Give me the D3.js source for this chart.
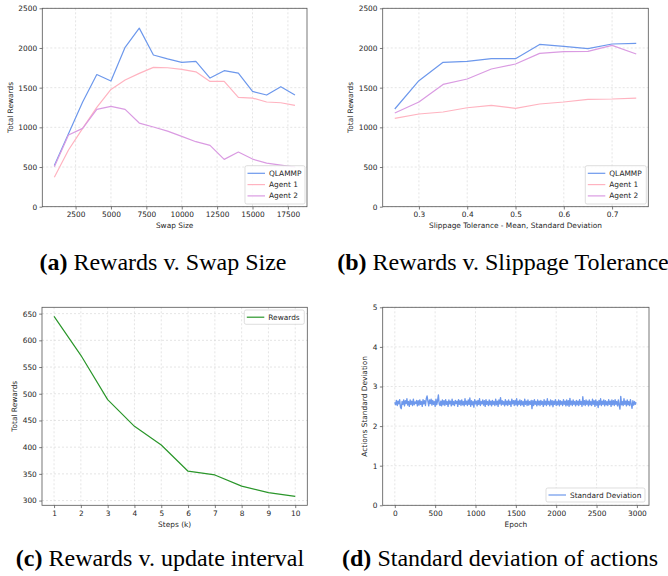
<!DOCTYPE html>
<html><head><meta charset="utf-8">
<script src="https://cdn.jsdelivr.net/npm/d3@7"></script>
<style>
body{margin:0;background:#fff;}
svg{display:block;}
text{font-family:"DejaVu Sans",sans-serif;}
.cap{font-family:"Liberation Serif","Times New Roman",serif;font-size:24px;fill:#000;}
</style></head><body>
<svg id="c" width="668" height="576"></svg>
<script>
// ---- data ----
const swapSizes = [1000,2000,3000,4000,5000,6000,7000,8000,9000,10000,11000,12000,13000,14000,15000,16000,17000,18000];
const swapQLAMMP = [520,920,1320,1665,1583,2008,2250,1911,1862,1819,1831,1621,1714,1684,1453,1407,1512,1407];
const swapAgent1 = [370,714,987,1252,1478,1596,1680,1756,1751,1730,1700,1579,1579,1378,1369,1319,1310,1277];
const swapAgent2 = [504,903,987,1226,1264,1226,1054,1004,953,886,819,773,596,689,600,550,525,500];

const slippage = [0.25,0.30,0.35,0.40,0.45,0.50,0.55,0.60,0.65,0.70,0.75];
const slipQLAMMP = [1231,1588,1819,1831,1865,1865,2045,2020,1991,2050,2058];
const slipAgent1 = [1113,1168,1193,1247,1277,1239,1294,1319,1352,1357,1369];
const slipAgent2 = [1180,1319,1541,1609,1735,1798,1932,1953,1957,2033,1924];

const steps = [1,2,3,4,5,6,7,8,9,10];
const stepRewards = [645,572,489,439,404,355,348,327,315,308];

const stdValues = [
2.60,2.54,2.65,2.52,2.63,2.56,2.67,2.48,2.44,2.62,2.55,2.66,2.51,2.64,2.57,2.69,2.53,2.62,2.50,2.66,2.55,2.63,2.52,2.68,2.54,2.61,2.57,2.65,2.51,2.64,
2.53,2.66,2.55,2.62,2.50,2.67,2.56,2.64,2.52,2.69,2.76,2.63,2.51,2.66,2.57,2.68,2.53,2.65,2.55,2.62,2.50,2.68,2.54,2.64,2.79,2.56,2.52,2.63,2.51,2.66,
2.54,2.64,2.52,2.67,2.55,2.62,2.50,2.66,2.56,2.63,2.51,2.68,2.54,2.62,2.52,2.65,2.57,2.63,2.50,2.67,2.55,2.64,2.52,2.66,2.54,2.62,2.51,2.69,2.55,2.63,
2.52,2.66,2.55,2.71,2.50,2.64,2.54,2.62,2.48,2.67,2.56,2.63,2.51,2.65,2.55,2.69,2.52,2.62,2.56,2.66,2.53,2.64,2.50,2.67,2.55,2.62,2.52,2.66,2.54,2.63,
2.51,2.65,2.55,2.62,2.52,2.68,2.54,2.63,2.50,2.66,2.56,2.72,2.53,2.64,2.55,2.62,2.51,2.67,2.54,2.63,2.52,2.66,2.55,2.62,2.50,2.68,2.56,2.64,2.52,2.65,
2.54,2.69,2.51,2.63,2.55,2.66,2.52,2.64,2.54,2.62,2.50,2.68,2.55,2.63,2.52,2.66,2.53,2.62,2.55,2.65,2.44,2.64,2.52,2.67,2.55,2.62,2.51,2.66,2.54,2.63,
2.52,2.65,2.55,2.62,2.50,2.67,2.54,2.63,2.52,2.69,2.55,2.62,2.51,2.66,2.54,2.64,2.49,2.63,2.55,2.67,2.52,2.62,2.54,2.66,2.51,2.64,2.55,2.62,2.52,2.67,
2.55,2.63,2.51,2.66,2.53,2.64,2.50,2.70,2.54,2.63,2.52,2.66,2.55,2.62,2.51,2.65,2.54,2.63,2.52,2.67,2.55,2.62,2.50,2.74,2.54,2.64,2.52,2.66,2.55,2.63,
2.51,2.66,2.54,2.62,2.52,2.68,2.55,2.64,2.50,2.66,2.53,2.62,2.47,2.65,2.54,2.69,2.52,2.63,2.55,2.66,2.51,2.64,2.54,2.62,2.52,2.67,2.55,2.63,2.50,2.66,
2.54,2.64,2.52,2.67,2.55,2.62,2.51,2.66,2.53,2.43,2.75,2.54,2.62,2.52,2.69,2.55,2.63,2.51,2.66,2.54,2.62,2.52,2.67,2.55,2.45,2.64,2.53,2.62,2.55,2.60];
const stdEpochs = d3.range(0, 3000, 10);

const ticksA = [2500,5000,7500,10000,12500,15000,17500];
const ticksB = [0.3,0.4,0.5,0.6,0.7];
const ticksRewards = [0,500,1000,1500,2000,2500];
const ticksC_x = [1,2,3,4,5,6,7,8,9,10];
const ticksC_y = [300,350,400,450,500,550,600,650];
const ticksD_x = [0,500,1000,1500,2000,2500,3000];
const ticksD_y = [0,1,2,3,4,5];

const legendA = ["QLAMMP","Agent 1","Agent 2"];
const colors = {QLAMMP:"#6d98ec", a1:"#ffb3c0", a2:"#da9be2", green:"#2a962a", std:"#6d98ec"};

const svg = d3.select("#c");
const FS = 7.4;

function panel(o){
  const g = svg.append("g");
  const x = d3.scaleLinear().domain(o.xd).range([o.l,o.r]);
  const y = d3.scaleLinear().domain(o.yd).range([o.b,o.t]);
  // grid
  g.append("g").selectAll("line").data(o.xt).join("line")
    .attr("x1",d=>x(d)).attr("x2",d=>x(d)).attr("y1",o.t).attr("y2",o.b)
    .attr("stroke","#d4d4d4").attr("stroke-width",0.6).attr("stroke-dasharray","2,2");
  g.append("g").selectAll("line").data(o.yt).join("line")
    .attr("y1",d=>y(d)).attr("y2",d=>y(d)).attr("x1",o.l).attr("x2",o.r)
    .attr("stroke","#d4d4d4").attr("stroke-width",0.6).attr("stroke-dasharray","2,2");
  // axes
  const xa = g.append("g").attr("transform",`translate(0,${o.b})`)
    .call(d3.axisBottom(x).tickValues(o.xt).tickSize(2.8).tickPadding(2.2).tickFormat(o.xf||(d=>d)));
  const ya = g.append("g").attr("transform",`translate(${o.l},0)`)
    .call(d3.axisLeft(y).tickValues(o.yt).tickSize(2.8).tickPadding(2.4).tickFormat(o.yf||(d=>d)));
  [xa,ya].forEach(a=>{
    a.select(".domain").remove();
    a.selectAll("line").attr("stroke","#444").attr("stroke-width",0.7);
    a.selectAll("text").attr("font-size",FS).attr("fill","#262626").attr("font-family","DejaVu Sans");
  });
  // series
  const clip = "clip"+Math.round(o.l)+Math.round(o.t);
  svg.append("clipPath").attr("id",clip).append("rect")
    .attr("x",o.l).attr("y",o.t).attr("width",o.r-o.l).attr("height",o.b-o.t);
  o.series.forEach(s=>{
    const line = d3.line().defined((d,i)=>i<s.xs.length).x((d,i)=>x(s.xs[i])).y(d=>y(d));
    g.append("path").attr("d",line(s.ys)).attr("fill","none")
      .attr("stroke",s.c).attr("stroke-width",s.w||1.2).attr("stroke-linejoin","round")
      .attr("clip-path",`url(#${clip})`);
  });
  // spines
  g.append("rect").attr("x",o.l).attr("y",o.t).attr("width",o.r-o.l).attr("height",o.b-o.t)
    .attr("fill","none").attr("stroke","#555").attr("stroke-width",0.8);
  // labels
  g.append("text").attr("x",(o.l+o.r)/2).attr("y",o.xly).attr("text-anchor","middle")
    .attr("font-size",FS).attr("fill","#262626").text(o.xl);
  g.append("text").attr("transform",`translate(${o.ylx},${(o.t+o.b)/2}) rotate(-90)`)
    .attr("text-anchor","middle").attr("dominant-baseline","middle")
    .attr("font-size",FS).attr("fill","#262626").text(o.yl);
  // legend
  const L = o.leg;
  const lg = g.append("g");
  lg.append("rect").attr("x",L.x).attr("y",L.y).attr("width",L.w).attr("height",L.h)
    .attr("rx",1.8).attr("fill","#fff").attr("fill-opacity",0.85).attr("stroke","#d0d0d0").attr("stroke-width",0.7);
  o.series.forEach((s,i)=>{
    const yy = L.y + L.first + i*L.dy;
    lg.append("line").attr("x1",L.x+2.5).attr("x2",L.x+20).attr("y1",yy).attr("y2",yy)
      .attr("stroke",s.c).attr("stroke-width",1.2);
    lg.append("text").attr("x",L.x+24).attr("y",yy).attr("dominant-baseline","central")
      .attr("font-size",FS).attr("fill","#262626").text(s.name);
  });
}

panel({l:42.3,r:307,t:8.3,b:206.7, xd:[150,18850], yd:[0,2500], xt:ticksA, yt:ticksRewards,
  xl:"Swap Size", yl:"Total Rewards", xly:227.5, ylx:11,
  series:[{name:legendA[0],xs:swapSizes,ys:swapQLAMMP,c:colors.QLAMMP},
          {name:legendA[1],xs:swapSizes,ys:swapAgent1,c:colors.a1},
          {name:legendA[2],xs:swapSizes,ys:swapAgent2,c:colors.a2}],
  leg:{x:245,y:165.7,w:60,h:38.3,first:7.6,dy:11.3}});

panel({l:382.7,r:648.3,t:8.3,b:206.7, xd:[0.225,0.775], yd:[0,2500], xt:ticksB, yt:ticksRewards,
  xf:d3.format(".1f"),
  xl:"Slippage Tolerance - Mean, Standard Deviation", yl:"Total Rewards", xly:227.5, ylx:351,
  series:[{name:legendA[0],xs:slippage,ys:slipQLAMMP,c:colors.QLAMMP},
          {name:legendA[1],xs:slippage,ys:slipAgent1,c:colors.a1},
          {name:legendA[2],xs:slippage,ys:slipAgent2,c:colors.a2}],
  leg:{x:585.3,y:165.7,w:61,h:38.3,first:7.6,dy:11.3}});

panel({l:42,r:307.3,t:307.3,b:505.3, xd:[0.55,10.45], yd:[291.15,661.85], xt:ticksC_x, yt:ticksC_y,
  xl:"Steps (k)", yl:"Total Rewards", xly:527, ylx:15,
  series:[{name:"Rewards",xs:steps,ys:stepRewards,c:colors.green}],
  leg:{x:244.3,y:310,w:60,h:14.3,first:7.2,dy:11.3}});

panel({l:382.7,r:649,t:307.3,b:505.3, xd:[-150,3150], yd:[0,5], xt:ticksD_x, yt:ticksD_y,
  xl:"Epoch", yl:"Actions Standard Deviation", xly:527, ylx:365,
  series:[{name:"Standard Deviation",xs:stdEpochs,ys:stdValues,c:colors.std,w:1.35}],
  leg:{x:546,y:488,w:99,h:14,first:7,dy:11.3}});

// captions
function caption(x, y, tag, rest){
  const t = svg.append("text").attr("class","cap").attr("x",x).attr("y",y).attr("text-anchor","middle");
  t.append("tspan").attr("font-weight","bold").text("("+tag+")");
  t.append("tspan").text(" "+rest);
}
caption(163, 270, "a", "Rewards v. Swap Size");
caption(503, 270, "b", "Rewards v. Slippage Tolerance");
caption(160, 566, "c", "Rewards v. update interval");
caption(500, 566, "d", "Standard deviation of actions");
</script></body></html>
